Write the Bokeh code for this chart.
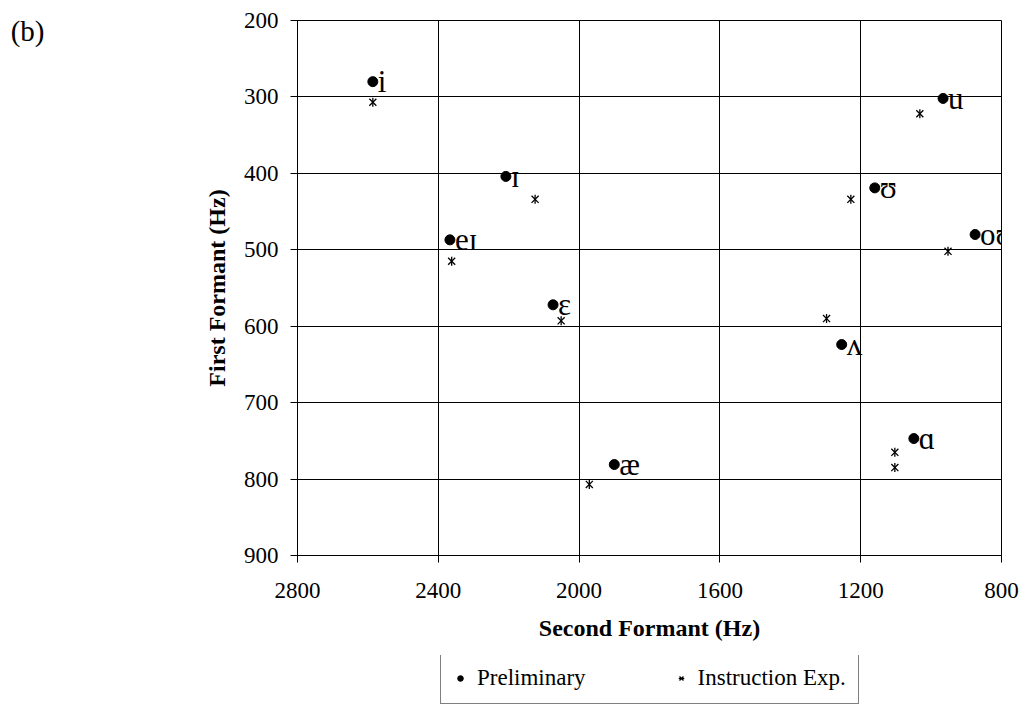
import math
from bokeh.plotting import figure
from bokeh.layouts import column
from bokeh.models import (Range1d, FixedTicker, Legend, LegendItem, LinearAxis,
                          ColumnDataSource)
from bokeh.core.properties import value
from bokeh.embed import file_html
from bokeh.resources import INLINE

# ---- data ----
vowels = ["i", "ɪ", "eɪ", "ɛ", "æ", "u", "ʊ", "oʊ", "ʌ", "ɑ"]
prelim_f2 = [2586, 2208, 2367, 2074, 1900, 966, 1160, 875, 1254, 1049]
prelim_f1 = [280, 404, 487, 572, 781, 302, 419, 480, 624, 747]

instr_f2 = [2586, 2125, 2362, 2051, 1971, 1032, 1228, 952, 1297, 1103, 1103]
instr_f1 = [307, 434, 515, 593, 807, 322, 434, 502, 590, 765, 785]

x_ticks = [2800, 2400, 2000, 1600, 1200, 800]
y_ticks = [200, 300, 400, 500, 600, 700, 800, 900]
panel_tag = "(b)"

SERIF = "Liberation Serif"

p = figure(frame_width=704, frame_height=535, output_backend="svg", toolbar_location=None,
           x_range=Range1d(2800, 800), y_range=Range1d(900, 200),
           min_border_left=297, min_border_right=20, min_border_top=20,
           min_border_bottom=100)
p.background_fill_color = "white"
p.border_fill_color = "white"
p.outline_line_color = "black"
p.outline_line_width = 1

for ax, ticks in ((p.xaxis[0], x_ticks), (p.yaxis[0], y_ticks)):
    ax.ticker = FixedTicker(ticks=ticks)
    ax.major_tick_in = 0
    ax.major_tick_out = 7
    ax.minor_tick_line_color = None
    ax.axis_line_color = "black"
    ax.major_tick_line_color = "black"
    ax.major_label_text_font = SERIF
    ax.major_label_text_font_size = "23px"
    ax.major_label_text_color = "black"
    ax.axis_label_text_font = SERIF
    ax.axis_label_text_font_size = "24px"
    ax.axis_label_text_font_style = "bold"
    ax.axis_label_text_color = "black"

p.xaxis.axis_label = "Second Formant (Hz)"
p.yaxis.axis_label = "First Formant (Hz)"
p.xaxis.major_label_standoff = 20
p.xaxis.axis_label_standoff = 14
p.yaxis.major_label_standoff = 12
p.yaxis.axis_label_standoff = 11

# panel tag "(b)" drawn as the single label of an extra, invisible left axis
tag_axis = LinearAxis(ticker=FixedTicker(ticks=[214]),
                      major_label_overrides={214: panel_tag},
                      axis_line_color=None, major_tick_line_color=None,
                      minor_tick_line_color=None,
                      major_label_standoff=150,
                      major_label_text_font=SERIF,
                      major_label_text_font_size="29px",
                      major_label_text_color="black")
p.add_layout(tag_axis, "left")

p.xgrid.ticker = FixedTicker(ticks=x_ticks)
p.ygrid.ticker = FixedTicker(ticks=y_ticks)
p.grid.grid_line_color = "black"
p.grid.grid_line_width = 1
p.grid.grid_line_alpha = 1

src_p = ColumnDataSource(dict(x=prelim_f2, y=prelim_f1, t=vowels))
src_i = ColumnDataSource(dict(x=instr_f2, y=instr_f1))

p.scatter("x", "y", source=src_p, marker="circle", size=10,
          fill_color="black", line_color="black")
p.scatter("x", "y", source=src_i, marker="x", size=10,
          line_color="black", line_width=1.3)
p.scatter("x", "y", source=src_i, marker="dash", size=9, angle=math.pi / 2,
          line_color="black", line_width=1.3)

p.text("x", "y", text="t", source=src_p, text_font=value(SERIF),
       text_font_size="31px", text_color="black", text_baseline="alphabetic",
       text_align="left", x_offset=5, y_offset=0)

# ---- legend strip below the chart (its own small figure) ----
p2 = figure(width=1021, height=52, output_backend="svg", toolbar_location=None,
            x_range=Range1d(0, 1), y_range=Range1d(0, 1),
            x_axis_location=None, y_axis_location=None, min_border=0)
p2.grid.visible = False
p2.outline_line_color = None
p2.background_fill_color = "white"
p2.border_fill_color = "white"

# same series; they fall outside this strip's ranges, so only the legend shows them
l_dot = p2.scatter("x", "y", source=src_p, marker="circle", size=10,
                   fill_color="black", line_color="black")
l_x = p2.scatter("x", "y", source=src_i, marker="x", size=10,
                 line_color="black", line_width=1.3)
l_v = p2.scatter("x", "y", source=src_i, marker="dash", size=9, angle=math.pi / 2,
                 line_color="black", line_width=1.3)

legend = Legend(items=[LegendItem(label="Preliminary", renderers=[l_dot]),
                       LegendItem(label="Instruction Exp.", renderers=[l_x, l_v])],
                orientation="horizontal", location=(143, 3),
                label_text_font=SERIF, label_text_font_size="23px",
                label_text_color="black",
                border_line_color="black", border_line_width=1,
                background_fill_color="white", background_fill_alpha=1,
                glyph_width=14, glyph_height=14, label_standoff=10,
                spacing=88, padding=12, margin=0)
p2.add_layout(legend, "center")

layout = column(p, p2, spacing=0)

open("out.html", "w").write(file_html(layout, INLINE))
